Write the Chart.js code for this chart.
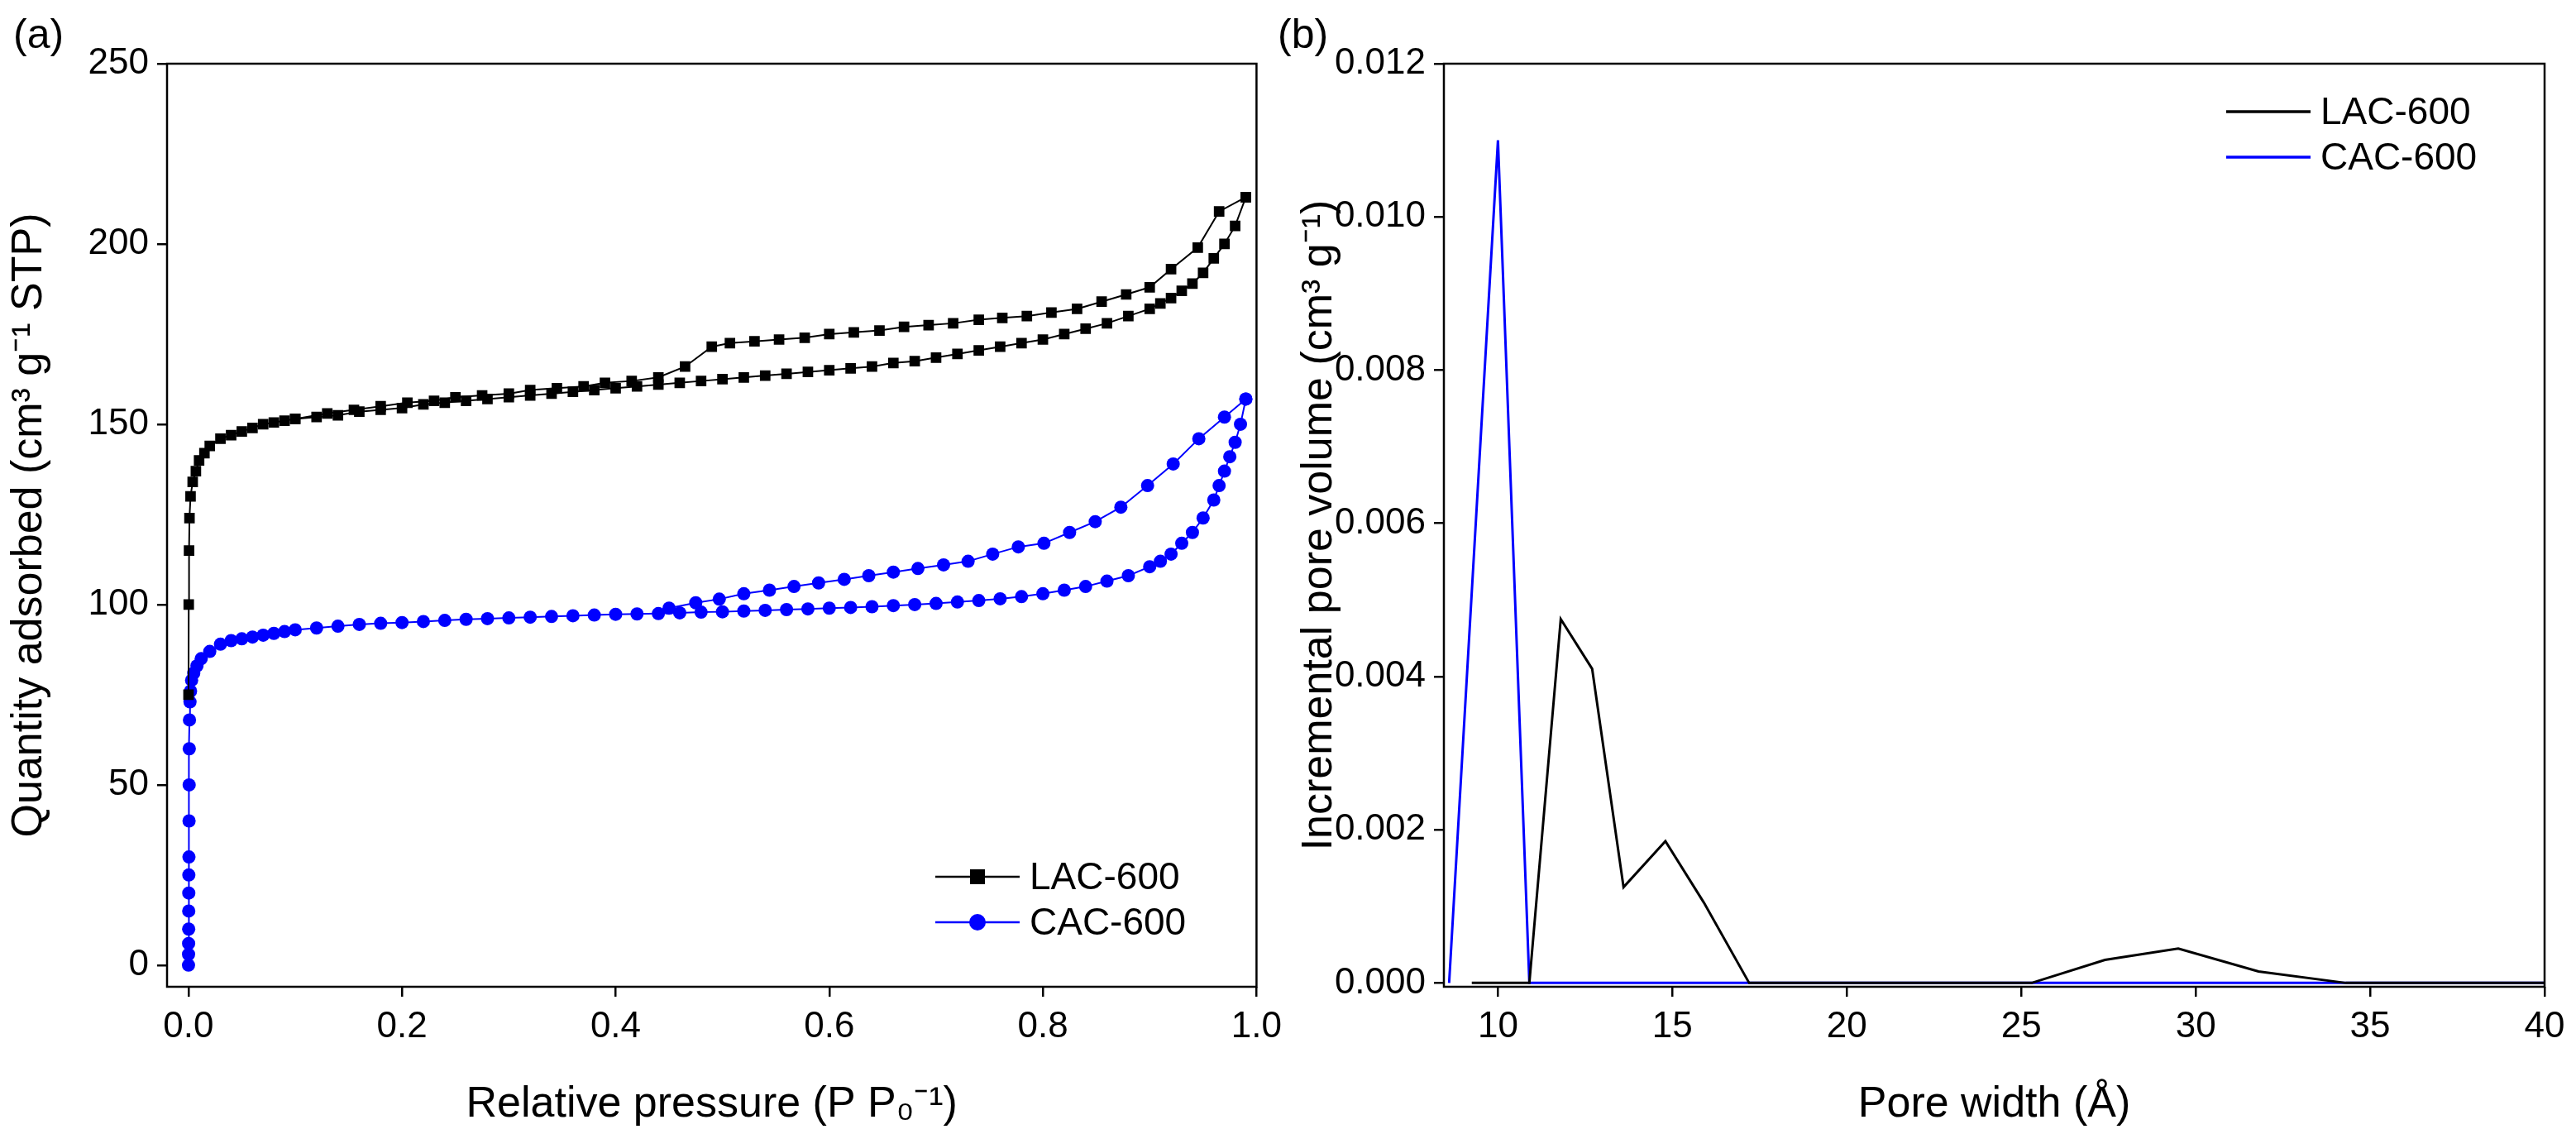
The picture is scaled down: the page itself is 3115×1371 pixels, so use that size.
<!DOCTYPE html>
<html>
<head>
<meta charset="utf-8">
<script src="https://cdn.jsdelivr.net/npm/chart.js@4"></script>
<style>
  body { margin: 0; background: #fff; width: 3115px; height: 1371px; position: relative; overflow: hidden; font-family: "Liberation Sans", Arial, sans-serif; }
  .panel { position: absolute; top: 0; height: 1371px; }
  .tag { position: absolute; top: 12px; font-size: 50px; color: #000; }
</style>
</head>
<body>
<div class="tag" style="left:16px">(a)</div>
<div class="tag" style="left:1545px">(b)</div>
<div class="panel" style="left:0;width:1560px"><canvas id="chartA"></canvas></div>
<div class="panel" style="left:1560px;width:1555px"><canvas id="chartB"></canvas></div>
<script>
// ---- panel (a): N2 isotherms ----
const lacAdsP = [0.0001,0.0003,0.0006,0.001,0.002,0.004,0.007,0.01,0.015,0.02,0.03,0.04,0.05,0.06,0.07,0.08,0.09,0.1,0.12,0.14,0.16,0.18,0.2,0.22,0.24,0.26,0.28,0.3,0.32,0.34,0.36,0.38,0.4,0.42,0.44,0.46,0.48,0.5,0.52,0.54,0.56,0.58,0.6,0.62,0.64,0.66,0.68,0.7,0.72,0.74,0.76,0.78,0.8,0.82,0.84,0.86,0.88,0.9,0.91,0.92,0.93,0.94,0.95,0.96,0.97,0.98,0.99];
const lacAdsQ = [75,100,115,124,130,134,137,140,142,144,146,147,148,149,150,150.5,151,151.5,152,152.5,153.5,154,154.5,155.5,156,156.5,157,157.5,158,158.5,159,159.5,160,160.5,161,161.5,162,162.5,163,163.5,164,164.5,165,165.5,166,167,167.5,168.5,169.5,170.5,171.5,172.5,173.5,175,176.5,178,180,182,183.5,185,187,189,192,196,200,205,213];
const lacDesP = [0.99,0.965,0.945,0.92,0.9,0.878,0.855,0.832,0.808,0.785,0.762,0.74,0.716,0.693,0.67,0.647,0.623,0.6,0.577,0.553,0.53,0.507,0.49,0.465,0.44,0.415,0.39,0.37,0.345,0.32,0.3,0.275,0.25,0.23,0.205,0.18,0.155,0.13,0.1];
const lacDesQ = [213,209,199,193,188,186,184,182,181,180,179.5,179,178,177.5,177,176,175.5,175,174,173.5,173,172.5,171.5,166,163,162,161.5,160.5,160,159.5,158.5,158,157.5,156.5,156,155,154,153,151.5];
const cacAdsP = [0.0001,0.00015,0.0002,0.00025,0.0003,0.00035,0.0004,0.0005,0.0006,0.0007,0.0008,0.001,0.0015,0.002,0.003,0.005,0.008,0.012,0.02,0.03,0.04,0.05,0.06,0.07,0.08,0.09,0.1,0.12,0.14,0.16,0.18,0.2,0.22,0.24,0.26,0.28,0.3,0.32,0.34,0.36,0.38,0.4,0.42,0.44,0.46,0.48,0.5,0.52,0.54,0.56,0.58,0.6,0.62,0.64,0.66,0.68,0.7,0.72,0.74,0.76,0.78,0.8,0.82,0.84,0.86,0.88,0.9,0.91,0.92,0.93,0.94,0.95,0.96,0.965,0.97,0.975,0.98,0.985,0.99];
const cacAdsQ = [0,3,6,10,15,20,25,30,40,50,60,68,73,76,79,81,83,85,87,89,90,90.5,91,91.5,92,92.5,93,93.5,94,94.5,94.8,95,95.3,95.6,95.9,96.1,96.3,96.5,96.7,96.9,97.1,97.3,97.4,97.5,97.7,97.9,98,98.2,98.4,98.6,98.8,99,99.2,99.4,99.7,100,100.3,100.7,101.1,101.6,102.2,103,104,105,106.5,108,110.5,112,114,117,120,124,129,133,137,141,145,150,157];
const cacDesP = [0.99,0.97,0.946,0.922,0.898,0.873,0.849,0.825,0.801,0.777,0.753,0.73,0.707,0.683,0.66,0.637,0.614,0.59,0.567,0.544,0.52,0.497,0.475,0.45];
const cacDesQ = [157,152,146,139,133,127,123,120,117,116,114,112,111,110,109,108,107,106,105,104,103,101.5,100.5,99];
const aTicksX = [0, 0.2, 0.4, 0.6, 0.8, 1.0];
const aTicksY = [0, 50, 100, 150, 200, 250];

// ---- panel (b): pore size distribution ----
const lacW = [9.25,10.9,11.8,12.7,13.6,14.8,15.9,17.2,25.3,27.4,29.5,31.8,34.3,40];
const lacV = [0,0,0.00475,0.0041,0.00125,0.00185,0.00105,0,0,0.0003,0.00045,0.00015,0,0];
const cacW = [8.6,10.0,10.9,40];
const cacV = [0,0.011,0,0];
const bTicksX = [10, 15, 20, 25, 30, 35, 40];
const bTicksY = [0, 0.002, 0.004, 0.006, 0.008, 0.010, 0.012];

const FONT = '"Liberation Sans", Arial, sans-serif';
Chart.defaults.font.family = FONT;
Chart.defaults.color = '#000';
const pts = (xs, ys) => xs.map((x, i) => ({ x, y: ys[i] }));

function frame(legendItems, lx, ly, gap, marker) {
  return {
    id: 'frame',
    afterDraw(chart) {
      const { ctx, chartArea: a } = chart;
      ctx.save();
      ctx.strokeStyle = '#000'; ctx.lineWidth = 2.5;
      ctx.strokeRect(a.left, a.top, a.right - a.left, a.bottom - a.top);
      ctx.font = '46px ' + FONT; ctx.textBaseline = 'middle';
      legendItems.forEach((it, i) => {
        const y = ly + i * gap;
        ctx.strokeStyle = it.color; ctx.fillStyle = it.color; ctx.lineWidth = marker ? 2.5 : 3.5;
        ctx.beginPath(); ctx.moveTo(lx, y); ctx.lineTo(lx + 102, y); ctx.stroke();
        if (marker) {
          if (it.shape === 'rect') ctx.fillRect(lx + 51 - 9, y - 9, 18, 18);
          else { ctx.beginPath(); ctx.arc(lx + 51, y, 10, 0, Math.PI * 2); ctx.fill(); }
        }
        ctx.fillStyle = '#000';
        ctx.fillText(it.label, lx + 114, y + 2);
      });
      ctx.restore();
    }
  };
}

function axes(o) {
  const tick = { font: { size: 44 }, color: '#000', padding: 10 };
  return {
    x: { type: 'linear', min: o.xmin, max: o.xmax,
      afterBuildTicks: s => { s.ticks = o.tx.map(v => ({ value: v })); },
      afterFit: s => { s.height = 178; },
      ticks: { ...tick, callback: o.fx },
      grid: { drawOnChartArea: false, tickLength: 12, color: '#000', lineWidth: 2.5 },
      border: { display: false },
      title: { display: true, text: o.xt, font: { size: 52 }, color: '#000', padding: { top: 20 } } },
    y: { type: 'linear', min: o.ymin, max: o.ymax,
      afterBuildTicks: s => { s.ticks = o.ty.map(v => ({ value: v })); },
      afterFit: s => { s.width = o.yw; },
      ticks: { ...tick, callback: o.fy },
      grid: { drawOnChartArea: false, tickLength: 12, color: '#000', lineWidth: 2.5 },
      border: { display: false },
      title: { display: true, text: o.yt, font: { size: 52 }, color: '#000', padding: { bottom: 2 } } }
  };
}

const ser = (data, color, shape, r, lw) => ({
  data, borderColor: color, backgroundColor: color, pointStyle: shape,
  pointRadius: r, pointBorderWidth: 0, borderWidth: lw, showLine: true, tension: 0
});

new Chart(document.getElementById('chartA'), {
  type: 'scatter',
  data: { datasets: [
    ser(pts(lacAdsP, lacAdsQ), '#000', 'rect', 9, 2),
    ser(pts(lacDesP, lacDesQ), '#000', 'rect', 9, 2),
    ser(pts(cacAdsP, cacAdsQ), '#0000ff', 'circle', 8, 2),
    ser(pts(cacDesP, cacDesQ), '#0000ff', 'circle', 8, 2)
  ] },
  options: {
    responsive: true, maintainAspectRatio: false, animation: false,
    layout: { padding: { top: 77, right: 39, left: 0, bottom: 0 } },
    plugins: { legend: { display: false }, tooltip: { enabled: false } },
    scales: axes({ xmin: -0.02, xmax: 1.0, ymin: -6, ymax: 250, tx: aTicksX, ty: aTicksY, yw: 202,
      fx: v => v.toFixed(1), fy: v => v,
      xt: 'Relative pressure (P P\u2080\u207B\u00B9)', yt: 'Quantity adsorbed (cm\u00B3 g\u207B\u00B9 STP)' })
  },
  plugins: [frame([{ label: 'LAC-600', color: '#000', shape: 'rect' }, { label: 'CAC-600', color: '#0000ff', shape: 'circle' }], 1131, 1060, 55, true)]
});

new Chart(document.getElementById('chartB'), {
  type: 'scatter',
  data: { datasets: [
    ser(pts(lacW, lacV), '#000', 'circle', 0, 3),
    ser(pts(cacW, cacV), '#0000ff', 'circle', 0, 3)
  ] },
  options: {
    responsive: true, maintainAspectRatio: false, animation: false,
    layout: { padding: { top: 77, right: 38, left: 0, bottom: 0 } },
    plugins: { legend: { display: false }, tooltip: { enabled: false } },
    scales: axes({ xmin: 8.45, xmax: 40, ymin: -0.00005, ymax: 0.012, tx: bTicksX, ty: bTicksY, yw: 186,
      fx: v => v, fy: v => v.toFixed(3),
      xt: 'Pore width (\u00C5)', yt: 'Incremental pore volume (cm\u00B3 g\u207B\u00B9)' })
  },
  plugins: [frame([{ label: 'LAC-600', color: '#000' }, { label: 'CAC-600', color: '#0000ff' }], 1132, 135, 55, false)]
});
</script>
</body>
</html>
